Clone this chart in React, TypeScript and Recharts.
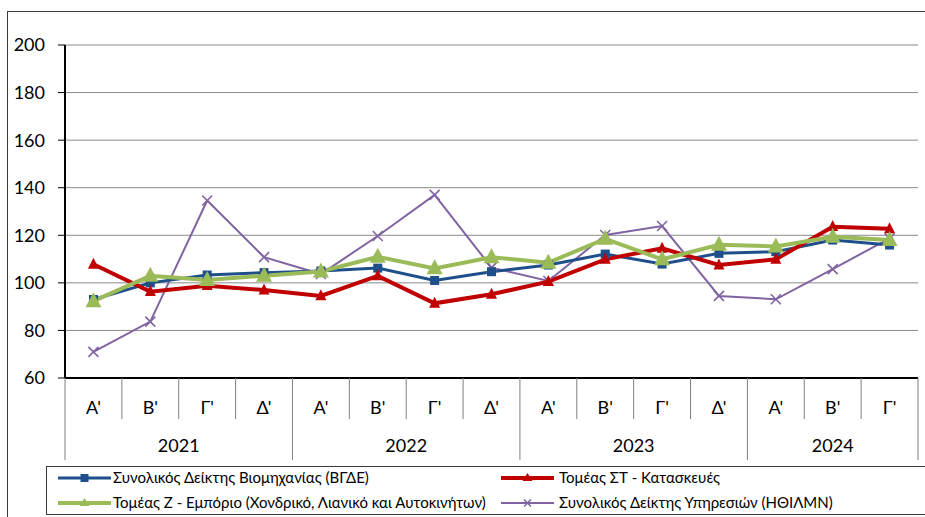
import React from "react";
import { LineChart, Line, XAxis, YAxis, CartesianGrid } from "recharts";

const quarters = ["Α'", "Β'", "Γ'", "Δ'", "Α'", "Β'", "Γ'", "Δ'", "Α'", "Β'", "Γ'", "Δ'", "Α'", "Β'", "Γ'"];
const years = ["2021", "2021", "2021", "2021", "2022", "2022", "2022", "2022", "2023", "2023", "2023", "2023", "2024", "2024", "2024"];
const industry = [93, 100, 103.3, 104.3, 105, 106.2, 101, 104.7, 107.5, 112.1, 107.9, 112.4, 113.1, 118, 115.9];
const construction = [107.8, 96.3, 98.8, 97, 94.5, 102.9, 91.4, 95.2, 100.5, 109.9, 114.5, 107.5, 109.9, 123.6, 122.7];
const trade = [92.3, 103, 101.2, 103, 104.8, 111, 106.1, 110.8, 108.5, 118.5, 109.9, 116, 115.3, 119.4, 118];
const services = [71, 83.7, 134.6, 110.8, 103.7, 119.7, 137, 106.4, 100.8, 120.1, 123.9, 94.5, 93.1, 105.8, 118.7];
const yTicks = [60, 80, 100, 120, 140, 160, 180, 200];
const seriesNames = [
  "Συνολικός Δείκτης Βιομηχανίας (ΒΓΔΕ)",
  "Τομέας ΣΤ - Κατασκευές",
  "Τομέας Ζ - Εμπόριο (Χονδρικό, Λιανικό και Αυτοκινήτων)",
  "Συνολικός Δείκτης Υπηρεσιών (ΗΘΙΛΜΝ)",
];

const data = quarters.map((q, i) => ({
  key: i,
  q,
  year: years[i],
  industry: industry[i],
  construction: construction[i],
  trade: trade[i],
  services: services[i],
}));

const W = 925;
const H = 517;
const PL = 65;
const PR = 918;
const PT = 45;
const PB = 378;
const HALF = (PR - PL) / quarters.length / 2;
const FONT = "Lato, 'Open Sans', sans-serif";

const C_BLUE = "#1F4F8B";
const C_RED = "#C00000";
const C_GREEN = "#9BBB59";
const C_PURPLE = "#8064A2";

const Square = (size: number, color: string) => (p: any) => {
  if (p.cx == null || p.cy == null) return <g key={p.key} />;
  return <rect key={p.key} x={p.cx - size / 2} y={p.cy - size / 2} width={size} height={size} fill={color} />;
};
const Tri = (w: number, h: number, color: string) => (p: any) => {
  if (p.cx == null || p.cy == null) return <g key={p.key} />;
  const { cx, cy } = p;
  return (
    <path
      key={p.key}
      d={`M${cx},${cy - h * 0.6} L${cx + w / 2},${cy + h * 0.4} L${cx - w / 2},${cy + h * 0.4} Z`}
      fill={color}
    />
  );
};
const Cross = (s: number, color: string, sw: number) => (p: any) => {
  if (p.cx == null || p.cy == null) return <g key={p.key} />;
  const { cx, cy } = p;
  const h = s / 2;
  return (
    <path
      key={p.key}
      d={`M${cx - h},${cy - h} L${cx + h},${cy + h} M${cx - h},${cy + h} L${cx + h},${cy - h}`}
      stroke={color}
      strokeWidth={sw}
      fill="none"
    />
  );
};

const XTick = (props: any) => {
  const { x, payload } = props;
  const i = payload.index;
  const yr = years[i];
  const isYearStart = i === 0 || years[i - 1] !== yr;
  const isLast = i === quarters.length - 1;
  const left = x - HALF;
  const count = years.filter((y) => y === yr).length;
  return (
    <g>
      <text x={x} y={414} textAnchor="middle" fontSize={18} fontFamily={FONT} fill="#000">
        {quarters[i]}
      </text>
      <line x1={left} x2={left} y1={PB} y2={isYearStart ? 460 : 419} stroke="#7f7f7f" strokeWidth={1} />
      {isLast && <line x1={x + HALF} x2={x + HALF} y1={PB} y2={460} stroke="#7f7f7f" strokeWidth={1} />}
      {isYearStart && (
        <text x={left + count * HALF} y={452} textAnchor="middle" fontSize={18} fontFamily={FONT} fill="#000">
          {yr}
        </text>
      )}
    </g>
  );
};

const legendMarkers = [
  (cx: number, cy: number) => <rect x={cx - 4} y={cy - 4} width={8} height={8} fill={C_BLUE} />,
  (cx: number, cy: number) => <path d={`M${cx},${cy - 5} L${cx + 5},${cy + 3} L${cx - 5},${cy + 3} Z`} fill={C_RED} />,
  (cx: number, cy: number) => <path d={`M${cx},${cy - 5} L${cx + 5},${cy + 3} L${cx - 5},${cy + 3} Z`} fill={C_GREEN} />,
  (cx: number, cy: number) => (
    <path d={`M${cx - 3.5},${cy - 3.5} L${cx + 3.5},${cy + 3.5} M${cx - 3.5},${cy + 3.5} L${cx + 3.5},${cy - 3.5}`} stroke={C_PURPLE} strokeWidth={1.5} />
  ),
];
const legendColors = [C_BLUE, C_RED, C_GREEN, C_PURPLE];
const legendWidths = [3, 4, 4, 2];
const legendPos = [
  { x: 58, y: 478, tx: 113 },
  { x: 501, y: 478, tx: 559 },
  { x: 58, y: 503, tx: 113 },
  { x: 501, y: 503, tx: 559 },
];

export default function App() {
  return (
    <div style={{ position: "absolute", left: 0, top: 0, width: W, height: H, overflow: "hidden", background: "#fff" }}>
      <div
        style={{
          position: "absolute",
          left: 7,
          top: 11,
          width: W,
          height: H,
          border: "1px solid #3a3a3a",
          boxSizing: "border-box",
        }}
      />
      <div style={{ position: "absolute", left: 0, top: 0 }}>
        <LineChart width={W} height={H} data={data} margin={{ top: PT, right: W - PR, bottom: 0, left: 0 }}>
          <CartesianGrid vertical={false} stroke="#8a8a8a" strokeWidth={1} />
          <XAxis
            dataKey="key"
            type="category"
            scale="band"
            height={H - PB}
            tick={<XTick />}
            tickLine={false}
            axisLine={{ stroke: "#000", strokeWidth: 2 }}
            interval={0}
          />
          <XAxis xAxisId="top" dataKey="key" scale="band" orientation="top" height={0} tick={false} tickLine={false} axisLine={{ stroke: "#000", strokeWidth: 2 }} />
          <YAxis
            domain={[60, 200]}
            ticks={yTicks}
            width={PL}
            tickSize={7}
            tickMargin={13}
            tickLine={{ stroke: "#000" }}
            axisLine={{ stroke: "#000", strokeWidth: 2 }}
            tick={{ fontSize: 18, fontFamily: FONT, fill: "#000" }}
            interval={0}
          />
          <YAxis yAxisId="right" orientation="right" domain={[60, 200]} width={0} tick={false} tickLine={false} axisLine={{ stroke: "#000", strokeWidth: 2 }} />
          <Line dataKey="services" stroke={C_PURPLE} strokeWidth={2} dot={Cross(10, C_PURPLE, 1.6)} isAnimationActive={false} />
          <Line dataKey="industry" stroke={C_BLUE} strokeWidth={3} dot={Square(9, C_BLUE)} isAnimationActive={false} />
          <Line dataKey="construction" stroke={C_RED} strokeWidth={4} dot={Tri(11, 11, C_RED)} isAnimationActive={false} />
          <Line dataKey="trade" stroke={C_GREEN} strokeWidth={4} dot={Tri(16, 15, C_GREEN)} isAnimationActive={false} />
        </LineChart>
      </div>
      <div
        style={{
          position: "absolute",
          left: 46,
          top: 466,
          width: 900,
          height: 49,
          border: "1px solid #3a3a3a",
          boxSizing: "border-box",
          background: "#fff",
        }}
      />
      <svg style={{ position: "absolute", left: 0, top: 0 }} width={W} height={H}>
        {seriesNames.map((name, i) => {
          const p = legendPos[i];
          return (
            <g key={name}>
              <line x1={p.x} x2={p.x + 53} y1={p.y} y2={p.y} stroke={legendColors[i]} strokeWidth={legendWidths[i]} />
              {legendMarkers[i](p.x + 26.5, p.y)}
              <text x={p.tx} y={p.y + 5} fontSize={15} fontFamily={FONT} fill="#000">
                {name}
              </text>
            </g>
          );
        })}
      </svg>
    </div>
  );
}
